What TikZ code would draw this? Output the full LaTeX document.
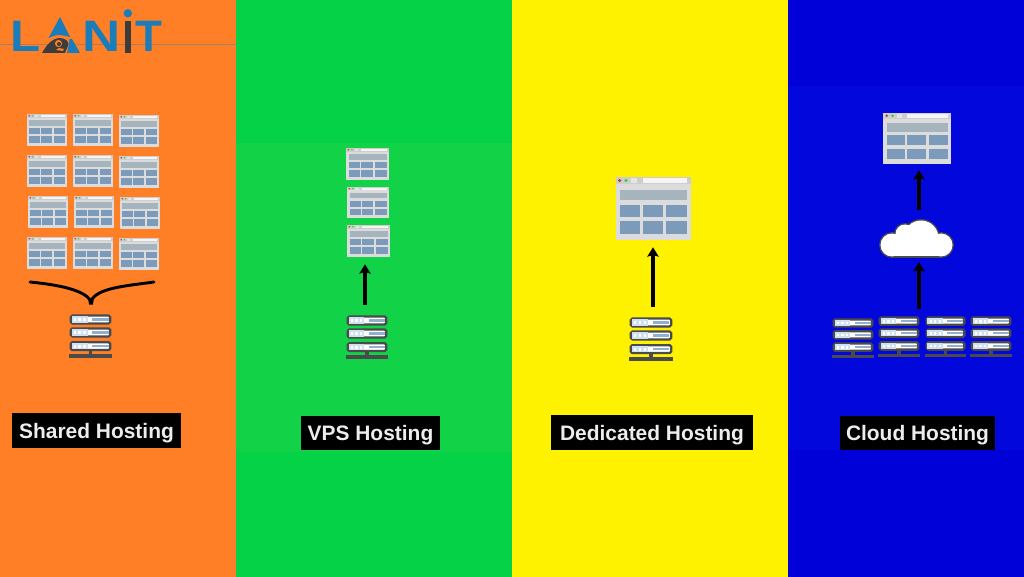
\documentclass[tikz,border=0pt]{standalone}
\usepackage{fontspec}
\setmainfont{Liberation Sans}
\newfontfamily\logofont{Liberation Sans}
\usetikzlibrary{arrows.meta}
\definecolor{pOrange}{HTML}{FF7F27}
\definecolor{pGreen}{HTML}{05D246}
\definecolor{pGreenB}{HTML}{12D348}
\definecolor{pYellow}{HTML}{FFF200}
\definecolor{pBlue}{HTML}{0000D8}
\definecolor{pBlueB}{HTML}{0208DC}
\definecolor{frameC}{HTML}{DCDCDC}
\definecolor{bandC}{HTML}{A6B4BE}
\definecolor{cellC}{HTML}{7C9ABA}
\definecolor{srvC}{HTML}{4A4A4C}
\definecolor{srvBar}{HTML}{8FB0D0}
\definecolor{srvPale}{HTML}{CFE0F0}
\definecolor{logoC}{HTML}{1A7DB9}
\definecolor{logoD}{HTML}{3C3C3C}
\tikzset{
  x=0.75pt,y=-0.75pt,
  winframe/.style={fill=frameC,inner sep=0pt},
  srvframe/.style={inner sep=0pt},
  conn/.style={draw=black,line width=2.5pt,-{Stealth[length=7pt,width=8.5pt,inset=1.2pt]}},
  brace/.style={draw=black,line width=2.2pt,line cap=round},
  tag/.style={fill=black,text=white!93!black,font=\fontsize{15.7}{18}\selectfont\bfseries,inner sep=0pt,anchor=center,text height=13.5pt,text depth=1.75pt},
  logoL/.style={text=logoC,font=\logofont\fontsize{33}{33}\selectfont\bfseries,inner sep=0pt,anchor=center},
}
% name, left, top, width, height
\newcommand\winbox[5]{%
  \node[winframe,minimum width=#4*0.75pt,minimum height=#5*0.75pt] (#1) at ({#2+#4/2},{#3+#5/2}) {};
  \begin{scope}[shift={(#2,#3)},x=#4*0.75pt,y=-#5*0.75pt]
    \fill[frameC!85!gray] (0,0) rectangle (1,.11);
    \fill[white!92!gray] (.36,.02) rectangle (.95,.09);
    \fill[red!60!gray] (.055,.055) circle[x radius=.022,y radius=.026];
    \fill[green!60!gray] (.14,.055) circle[x radius=.022,y radius=.026];
    \fill[white!80!gray] (.2,.02) rectangle (.28,.09);
    \fill[bandC] (.06,.2) rectangle (.95,.37);
    \foreach \xa/\xb in {.06/.33,.36/.63,.67/.95}{
      \fill[cellC] (\xa,.44) rectangle (\xb,.635);
      \fill[cellC] (\xa,.70) rectangle (\xb,.90);
    }
  \end{scope}}
% name, left, top, width, height
\newcommand\srvbox[5]{%
  \node[srvframe,minimum width=#4*0.75pt,minimum height=#5*0.75pt] (#1) at ({#2+#4/2},{#3+#5/2}) {};
  \begin{scope}[shift={(#2,#3)},x=#4*0.75pt,y=-#5*0.75pt]
    \foreach \t in {0,.295,.605}{
      \filldraw[draw=srvC,fill=white,line width=1.7pt,rounded corners=1.2pt] (.04,\t+.035) rectangle (.96,\t+.215);
      \fill[srvPale] (.06,\t+.055) rectangle (.44,\t+.195);
      \fill[srvBar] (.54,\t+.1) rectangle (.92,\t+.155);
      \fill[white] (.11,\t+.095) rectangle (.17,\t+.16);
      \fill[white] (.22,\t+.095) rectangle (.28,\t+.16);
      \fill[white] (.33,\t+.095) rectangle (.39,\t+.16);
    }
    \fill[srvC] (.46,.83) rectangle (.54,.94);
    \fill[srvC] (0,.92) rectangle (1,1);
  \end{scope}}
\begin{document}
\begin{tikzpicture}
\useasboundingbox (0,0) rectangle (1024,577);
% panels
\fill[pOrange] (0,0) rectangle (236,577);
\fill[pGreen] (236,0) rectangle (512,577);
\fill[pGreenB] (236,143) rectangle (512,452);
\fill[pYellow] (512,0) rectangle (788,577);
\fill[pBlue] (788,0) rectangle (1024,577);
\fill[pBlueB] (788,86) rectangle (1024,450);
% logo
\draw[gray!70!pOrange,line width=0.5pt] (0,44) -- (236,44);
\node[logoL,xscale=1.12] (logoLa) at (26,36) {L};
\fill[logoC] (60,17) -- (70,37) .. controls (66,36) and (62,35) .. (58,35) .. controls (54,35.5) and (51,37) .. (48.5,38) -- cycle;
\fill[logoC] (69.5,39) -- (72,39) -- (80,53) -- (67,53) -- (68.5,46) -- cycle;
\fill[logoD] (42,53) .. controls (46,46) and (51,39) .. (59,38) .. controls (66,38) and (70.5,42) .. (67.5,47) -- (65,53) -- cycle;
\fill[pOrange] (58.5,43.5) circle[radius=3.6];
\fill[logoD] (59,44) circle[radius=2];
\fill[pOrange] (56,50) -- (59,48) -- (64,49) -- (63,51) -- cycle;
\node[logoL,xscale=1.2] (logoN) at (101.5,36) {N};
\fill[logoD] (125,21) rectangle (131,53);
\fill[logoC] (127.8,13.3) circle[radius=4.2];
\node[logoL] (logoT) at (148.5,36) {T};
% shared hosting
\foreach \nm/\xx/\yy in {a/27/114,b/73/114,c/119/115,d/27/155,e/73/155,f/119/156,g/28/196,h/74/196,i/120/197,j/27/237,k/73/237,l/119/238}{
  \winbox{w\nm}{\xx}{\yy}{40}{32}
}
\srvbox{sA}{69}{314}{43}{44}
\coordinate (bL) at (30,282);
\coordinate (bR) at (154,282);
\coordinate (bM) at (91,301);
\draw[brace] (bL) .. controls (60,285) and (84,290) .. (bM);
\draw[brace] (bR) .. controls (125,286) and (97,288) .. (bM);
\fill[black] (bM) ++(-2.6,-1) -- ++(5.2,0) -- ++(-0.6,4.5) -- ++(-4,0) -- cycle;
% vps
\winbox{vA}{346}{148}{43}{32}
\winbox{vB}{347}{187}{42}{31}
\winbox{vC}{347}{225}{43}{32}
\srvbox{sB}{346}{315}{42}{44}
\draw[conn,shorten <=7.5pt,shorten >=5.25pt] (sB.north -| 365,0) -- (vC.south -| 365,0);
% dedicated
\winbox{dA}{615.5}{177}{75}{63.5}
\srvbox{sC}{629}{317}{44}{44}
\draw[conn,shorten <=7.5pt,shorten >=4.9pt] (sC.north -| 653,0) -- (dA.south -| 653,0);
% cloud
\winbox{cW}{883}{113}{68}{51}
\srvbox{sD}{832}{318}{42}{40}
\srvbox{sE}{878}{316}{42}{41}
\srvbox{sF}{925}{316}{41}{41}
\srvbox{sG}{970}{316}{42}{41}
\node[inner sep=0pt,minimum width=56pt,minimum height=29pt] (cl) at (916.5,238.5) {};
\foreach \dd/\cc in {srvC/1.4,white/0}{
  \fill[\dd] (892,245) circle[radius=11.5+\cc];
  \fill[\dd] (905,234) circle[radius=9.5+\cc];
  \fill[\dd] (921,238) circle[radius=17.5+\cc];
  \fill[\dd] (941,245) circle[radius=11.5+\cc];
  \fill[\dd] (903,243) circle[radius=7+\cc];
  \fill[\dd] (892,245) rectangle (941,256.5+\cc);
}
\draw[conn,shorten <=6.75pt,shorten >=4.5pt] (cl.north -| 919,0) -- (cW.south -| 919,0);
\draw[conn,shorten <=5.25pt,shorten >=3pt] (sE.north -| 919,0) -- (cl.south -| 919,0);
% labels
\node[tag,minimum width=126.75pt,minimum height=26pt] (t1) at (96.5,430.5) {Shared Hosting};
\node[tag,minimum width=104.25pt,minimum height=25.5pt] (t2) at (370.5,433) {VPS Hosting};
\node[tag,minimum width=151.5pt,minimum height=26pt] (t3) at (652,432.5) {Dedicated Hosting};
\node[tag,minimum width=116.25pt,minimum height=25.5pt] (t4) at (917.5,433) {Cloud Hosting};
\end{tikzpicture}
\end{document}
